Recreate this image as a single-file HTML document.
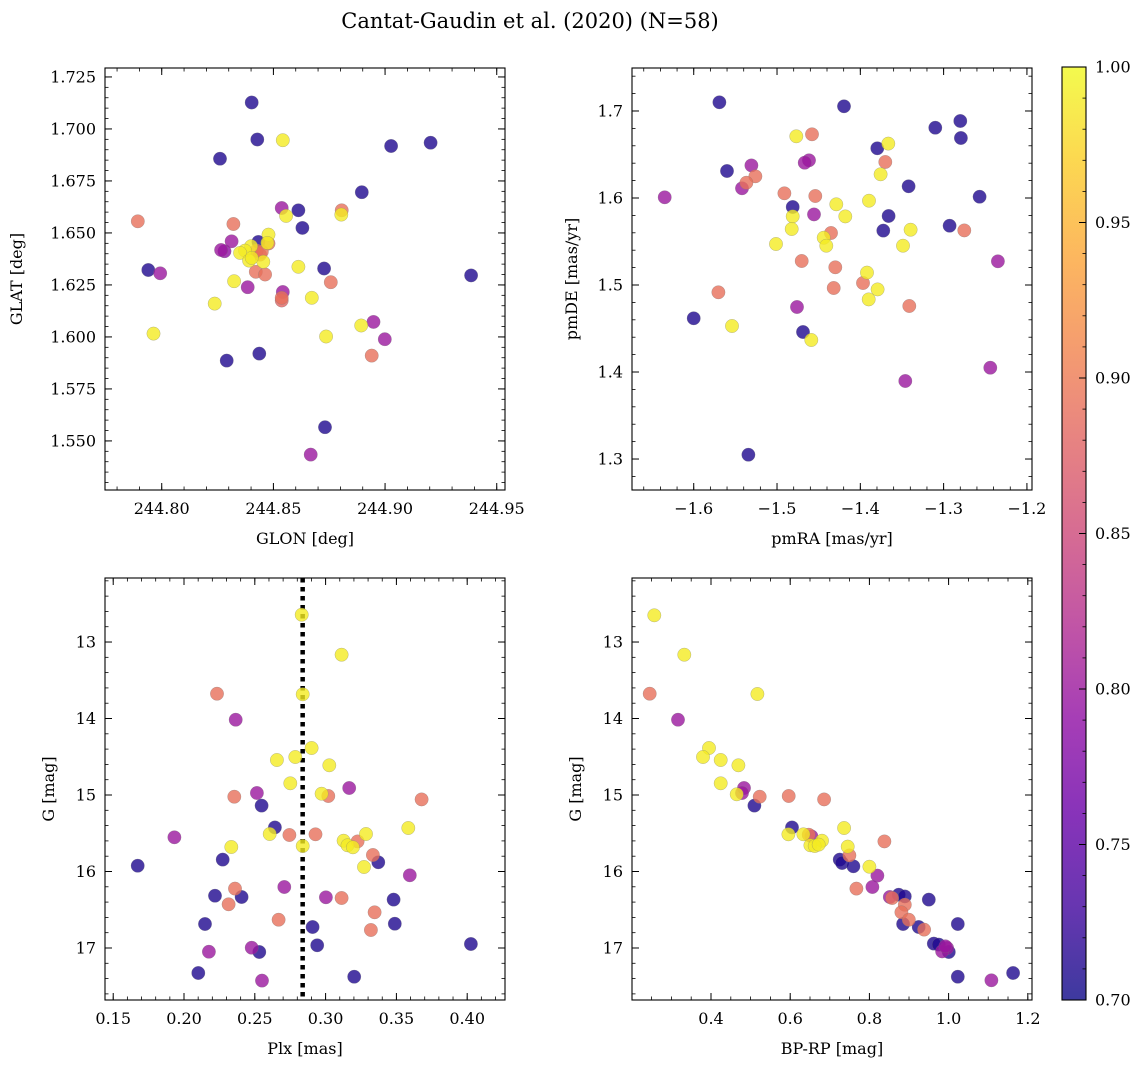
<!DOCTYPE html>
<html><head><meta charset="utf-8">
<style>
body{margin:0;background:#fff;}
svg{display:block;font-family:"DejaVu Serif","Liberation Serif",serif;}
</style></head>
<body>
<svg id="fig" width="1148" height="1067" viewBox="0 0 1148 1067">
<text x="530" y="28" font-size="21" text-anchor="middle">Cantat-Gaudin et al. (2020) (N=58)</text>
</svg>
<script>
// ---- Data ----
const p1_glon=[244.8403,244.8428,244.8542,244.8261,244.9027,244.9204,244.8896,244.8537,244.8612,244.8557,244.8806,244.8804,244.7893,244.8321,244.8630,244.8313,244.8478,244.8433,244.8478,244.8473,244.8266,244.8281,244.8400,244.8373,244.8351,244.8440,244.8391,244.8455,244.8421,244.8463,244.7940,244.7993,244.8612,244.8727,244.8757,244.8324,244.8385,244.8542,244.8537,244.8537,244.8672,244.8237,244.8948,244.8893,244.8999,244.8736,244.7963,244.8940,244.8437,244.8291,244.8731,244.8667,244.9385,244.8425,244.8448,244.8403];
const p1_glat=[1.7127,1.6949,1.6946,1.6857,1.6918,1.6934,1.6696,1.6620,1.6609,1.6582,1.6609,1.6588,1.6556,1.6543,1.6524,1.6460,1.6492,1.6457,1.6449,1.6452,1.6418,1.6412,1.6436,1.6415,1.6404,1.6396,1.6367,1.6361,1.6313,1.6300,1.6322,1.6306,1.6337,1.6329,1.6263,1.6268,1.6239,1.6216,1.6188,1.6175,1.6188,1.6160,1.6072,1.6055,1.5989,1.6002,1.6016,1.5910,1.5920,1.5886,1.5566,1.5434,1.6296,1.6415,1.6410,1.6380];
const p1_prob=[0.71,0.71,0.99,0.71,0.71,0.71,0.71,0.80,0.71,0.99,0.89,0.99,0.89,0.89,0.71,0.80,0.99,0.71,0.89,0.99,0.80,0.79,0.99,0.99,0.99,0.89,0.99,0.99,0.89,0.89,0.71,0.80,0.99,0.71,0.89,0.99,0.80,0.80,0.89,0.88,0.99,0.99,0.80,0.99,0.80,0.99,0.99,0.89,0.71,0.71,0.71,0.80,0.71,0.89,0.89,0.99];

const p2_pmra=[-1.5692,-1.4196,-1.4768,-1.4580,-1.3100,-1.2800,-1.2792,-1.3796,-1.3664,-1.3700,-1.4616,-1.4668,-1.5600,-1.5308,-1.5260,-1.5368,-1.5420,-1.3756,-1.3420,-1.6348,-1.2568,-1.4912,-1.4540,-1.3896,-1.4288,-1.4812,-1.4812,-1.4556,-1.4180,-1.3660,-1.2928,-1.2752,-1.3724,-1.3396,-1.4824,-1.4352,-1.4440,-1.4408,-1.5012,-1.3488,-1.4704,-1.2348,-1.4300,-1.3920,-1.3968,-1.4320,-1.3792,-1.3900,-1.5704,-1.3412,-1.4760,-1.6000,-1.5540,-1.4688,-1.4588,-1.2440,-1.3460,-1.5344];
const p2_pmde=[1.7100,1.7054,1.6709,1.6732,1.6808,1.6885,1.6690,1.6571,1.6625,1.6414,1.6433,1.6406,1.6310,1.6375,1.6249,1.6176,1.6111,1.6272,1.6134,1.6008,1.6015,1.6054,1.6023,1.5969,1.5927,1.5897,1.5789,1.5812,1.5789,1.5793,1.5682,1.5628,1.5625,1.5636,1.5644,1.5598,1.5544,1.5452,1.5471,1.5452,1.5276,1.5272,1.5203,1.5142,1.5023,1.4966,1.4950,1.4835,1.4916,1.4759,1.4747,1.4617,1.4529,1.4460,1.4368,1.4050,1.3897,1.3050];
const p2_prob=[0.71,0.71,0.99,0.89,0.71,0.71,0.71,0.71,0.99,0.89,0.80,0.80,0.71,0.80,0.89,0.89,0.80,0.99,0.71,0.80,0.71,0.89,0.89,0.99,0.99,0.71,0.99,0.80,0.99,0.71,0.71,0.89,0.71,0.99,0.99,0.89,0.99,0.99,0.99,0.99,0.89,0.80,0.89,0.99,0.89,0.89,0.99,0.99,0.89,0.89,0.80,0.71,0.99,0.71,0.99,0.80,0.80,0.71];

const p3_plx=[0.2831,0.3113,0.2233,0.2838,0.2365,0.2901,0.2656,0.2786,0.3026,0.2751,0.3167,0.2515,0.2355,0.2972,0.3019,0.3678,0.2548,0.2642,0.2605,0.2744,0.2929,0.3584,0.3285,0.3226,0.3127,0.3155,0.3193,0.2838,0.1932,0.2334,0.2273,0.3334,0.3372,0.3271,0.1673,0.3595,0.2360,0.2708,0.2219,0.2407,0.2315,0.3002,0.3113,0.3480,0.3346,0.2668,0.2148,0.3489,0.2908,0.3320,0.2941,0.4026,0.2478,0.2532,0.2176,0.2101,0.3202,0.2551];
const p3_g=[12.643,13.166,13.675,13.684,14.015,14.386,14.542,14.503,14.612,14.847,14.908,14.974,15.022,14.983,15.013,15.057,15.139,15.423,15.510,15.523,15.514,15.431,15.510,15.606,15.597,15.658,15.684,15.667,15.553,15.680,15.845,15.784,15.880,15.941,15.924,16.050,16.224,16.203,16.316,16.333,16.429,16.338,16.346,16.368,16.534,16.630,16.686,16.682,16.725,16.765,16.965,16.948,16.996,17.052,17.048,17.327,17.375,17.427];
const p3_prob=[0.99,0.99,0.89,0.99,0.80,0.99,0.99,0.99,0.99,0.99,0.80,0.80,0.89,0.99,0.89,0.89,0.71,0.71,0.99,0.89,0.89,0.99,0.99,0.89,0.99,0.99,0.99,0.99,0.80,0.99,0.71,0.89,0.71,0.99,0.71,0.80,0.89,0.80,0.71,0.71,0.89,0.80,0.89,0.71,0.89,0.89,0.71,0.71,0.71,0.89,0.71,0.71,0.80,0.71,0.80,0.71,0.71,0.80];

const p4_bprp=[0.2568,0.3326,0.2451,0.5171,0.3166,0.3949,0.3798,0.4244,0.4691,0.4244,0.4834,0.4648,0.4783,0.5229,0.5962,0.6855,0.5095,0.6046,0.5954,0.6333,0.6467,0.6535,0.7360,0.6804,0.6509,0.6619,0.6720,0.8379,0.7495,0.7453,0.7251,0.7310,0.7596,0.8000,0.8202,0.7671,0.8076,0.8741,0.8893,0.8514,0.8573,0.9499,0.8893,0.8808,0.8994,0.8851,1.0232,0.9246,0.9381,0.9625,0.9752,0.9962,0.9836,1.0004,1.0232,1.1629,1.1082,0.9920];
const p4_g=[12.651,13.166,13.675,13.680,14.015,14.386,14.503,14.542,14.612,14.847,14.908,14.991,14.974,15.022,15.013,15.057,15.139,15.423,15.514,15.514,15.519,15.540,15.431,15.597,15.658,15.667,15.649,15.606,15.789,15.675,15.845,15.889,15.932,15.937,16.054,16.224,16.203,16.303,16.325,16.333,16.346,16.368,16.434,16.534,16.630,16.686,16.686,16.725,16.760,16.943,16.956,17.000,17.044,17.052,17.375,17.327,17.423,16.978];
const p4_prob=[0.99,0.99,0.89,0.99,0.80,0.99,0.99,0.99,0.99,0.99,0.80,0.99,0.80,0.89,0.89,0.89,0.71,0.71,0.99,0.99,0.89,0.80,0.99,0.99,0.99,0.99,0.99,0.89,0.89,0.99,0.71,0.71,0.71,0.99,0.80,0.89,0.80,0.71,0.71,0.80,0.89,0.71,0.89,0.89,0.89,0.71,0.71,0.71,0.89,0.71,0.71,0.80,0.80,0.71,0.71,0.71,0.80,0.80];

const plxMedian=0.2838;
const cbTicks=[0.70,0.75,0.80,0.85,0.90,0.95,1.00];

// ---- helpers ----
const NS="http://www.w3.org/2000/svg";
const svg=document.getElementById('fig');
function mk(tag,attrs,parent){const e=document.createElementNS(NS,tag);for(const k in attrs)e.setAttribute(k,attrs[k]);(parent||svg).appendChild(e);return e;}
const stops=[[13,8,135],[65,4,157],[106,0,168],[143,13,164],[177,42,144],[204,71,120],[225,100,98],[242,132,75],[252,166,54],[252,206,37],[240,249,33]];
function plasma(t){t=Math.max(0,Math.min(1,t));const f=t*10,i=Math.min(9,Math.floor(f)),r=f-i;const a=stops[i],b=stops[i+1];return `rgb(${Math.round(a[0]+(b[0]-a[0])*r)},${Math.round(a[1]+(b[1]-a[1])*r)},${Math.round(a[2]+(b[2]-a[2])*r)})`;}
const vmin=0.70,vmax=1.00;
const minus=s=>s.replace('-','\u2212');

function panel(o){
  const {L,T,W,H,xd,yd,invY}=o;
  const sx=v=>L+(v-xd[0])/(xd[1]-xd[0])*W;
  const sy=v=>invY? T+(v-yd[0])/(yd[1]-yd[0])*H : T+H-(v-yd[0])/(yd[1]-yd[0])*H;
  const g=mk('g',{});
  
  
  if(o.vline!==undefined){
    const l=mk('line',{x1:sx(o.vline),x2:sx(o.vline),y1:T,y2:T+H,stroke:'#000','stroke-width':4.5,'stroke-dasharray':'4.5 4.5'},g);
    
    
  }
  const idx=o.xs.map((_,i)=>i).sort((a,b)=>o.ps[a]-o.ps[b]);
  idx.forEach(i=>{
    const c=mk('circle',{cx:sx(o.xs[i]).toFixed(1),cy:sy(o.ys[i]).toFixed(1),r:6.7,fill:plasma((o.ps[i]-vmin)/(vmax-vmin)),'fill-opacity':0.8,stroke:'#777','stroke-opacity':0.5,'stroke-width':0.5},g);
    
    
  });
  mk('rect',{x:L,y:T,width:W,height:H,fill:'none',stroke:'#000','stroke-width':1.1},g);
  const eps=1e-9;
  function range(d,step){const a=[];let v=Math.ceil(d[0]/step-eps)*step;for(;v<=d[1]+eps;v+=step)a.push(+v.toFixed(6));return a;}
  range(xd,o.xminor).forEach(v=>{const x=sx(v);mk('line',{x1:x,x2:x,y1:T+H,y2:T+H-3.5,stroke:'#000','stroke-width':0.8},g);mk('line',{x1:x,x2:x,y1:T,y2:T+3.5,stroke:'#000','stroke-width':0.8},g);});
  range(yd,o.yminor).forEach(v=>{const y=sy(v);mk('line',{x1:L,x2:L+3.5,y1:y,y2:y,stroke:'#000','stroke-width':0.8},g);mk('line',{x1:L+W,x2:L+W-3.5,y1:y,y2:y,stroke:'#000','stroke-width':0.8},g);});
  o.xt.forEach(v=>{const x=sx(v);mk('line',{x1:x,x2:x,y1:T+H,y2:T+H-7,stroke:'#000','stroke-width':1},g);mk('line',{x1:x,x2:x,y1:T,y2:T+7,stroke:'#000','stroke-width':1},g);
    const t=mk('text',{x:x,y:T+H+24,'font-size':16,'text-anchor':'middle'},g);t.textContent=minus(v.toFixed(o.xdec));
    
    });
  o.yt.forEach(v=>{const y=sy(v);mk('line',{x1:L,x2:L+7,y1:y,y2:y,stroke:'#000','stroke-width':1},g);mk('line',{x1:L+W,x2:L+W-7,y1:y,y2:y,stroke:'#000','stroke-width':1},g);
    const t=mk('text',{x:L-9,y:y+5.5,'font-size':16,'text-anchor':'end'},g);t.textContent=minus(v.toFixed(o.ydec));
    
    });
  const xl=mk('text',{x:L+W/2,y:T+H+54,'font-size':16,'text-anchor':'middle'},g);xl.textContent=o.xlabel;
  
  
  const yl=mk('text',{x:0,y:0,'font-size':16,'text-anchor':'middle',transform:`translate(${o.ylx},${T+H/2}) rotate(-90)`},g);yl.textContent=o.ylabel;
  
  
}

panel({name:'glon-glat-panel',L:105,T:68,W:400,H:422,xd:[244.7746,244.9537],yd:[1.5264,1.7293],xs:p1_glon,ys:p1_glat,ps:p1_prob,
  xt:[244.80,244.85,244.90,244.95],xminor:0.01,xdec:2,yt:[1.550,1.575,1.600,1.625,1.650,1.675,1.700,1.725],yminor:0.005,ydec:3,xlabel:'GLON [deg]',ylabel:'GLAT [deg]',ylx:22});
panel({name:'proper-motion-panel',L:632,T:68,W:400,H:422,xd:[-1.6741,-1.1939],yd:[1.2644,1.7494],xs:p2_pmra,ys:p2_pmde,ps:p2_prob,
  xt:[-1.6,-1.5,-1.4,-1.3,-1.2],xminor:0.02,xdec:1,yt:[1.3,1.4,1.5,1.6,1.7],yminor:0.02,ydec:1,xlabel:'pmRA [mas/yr]',ylabel:'pmDE [mas/yr]',ylx:577});
panel({name:'parallax-mag-panel',L:105,T:578,W:400,H:422,xd:[0.1442,0.4267],yd:[12.163,17.680],invY:true,xs:p3_plx,ys:p3_g,ps:p3_prob,vline:plxMedian,
  xt:[0.15,0.20,0.25,0.30,0.35,0.40],xminor:0.01,xdec:2,yt:[13,14,15,16,17],yminor:0.2,ydec:0,xlabel:'Plx [mas]',ylabel:'G [mag]',ylx:54});
panel({name:'cmd-panel',L:632,T:578,W:400,H:422,xd:[0.2005,1.2106],yd:[12.163,17.680],invY:true,xs:p4_bprp,ys:p4_g,ps:p4_prob,
  xt:[0.4,0.6,0.8,1.0,1.2],xminor:0.05,xdec:1,yt:[13,14,15,16,17],yminor:0.2,ydec:0,xlabel:'BP-RP [mag]',ylabel:'G [mag]',ylx:581});

(function(){
  const L=1062,T=67,W=24,H=933;
  const defs=mk('defs',{});
  const gr=mk('linearGradient',{id:'cbg',x1:0,y1:1,x2:0,y2:0},defs);
  for(let i=0;i<=20;i++){mk('stop',{offset:(i/20),'stop-color':plasma(i/20),'stop-opacity':0.8},gr);}
  const r=mk('rect',{x:L,y:T,width:W,height:H,fill:'url(#cbg)',stroke:'#000','stroke-width':1.1});
  
  
  const sy=v=>T+H-(v-vmin)/(vmax-vmin)*H;
  for(let v=0.70;v<=1.0001;v+=0.01){const y=sy(v);mk('line',{x1:L+W,x2:L+W-3.5,y1:y,y2:y,stroke:'#000','stroke-width':0.8});}
  cbTicks.forEach(v=>{const y=sy(v);mk('line',{x1:L+W,x2:L+W-7,y1:y,y2:y,stroke:'#000','stroke-width':1});
    const t=mk('text',{x:L+W+9,y:y+5.5,'font-size':16});t.textContent=v.toFixed(2);
    
    });
})();
</script>
</body></html>
